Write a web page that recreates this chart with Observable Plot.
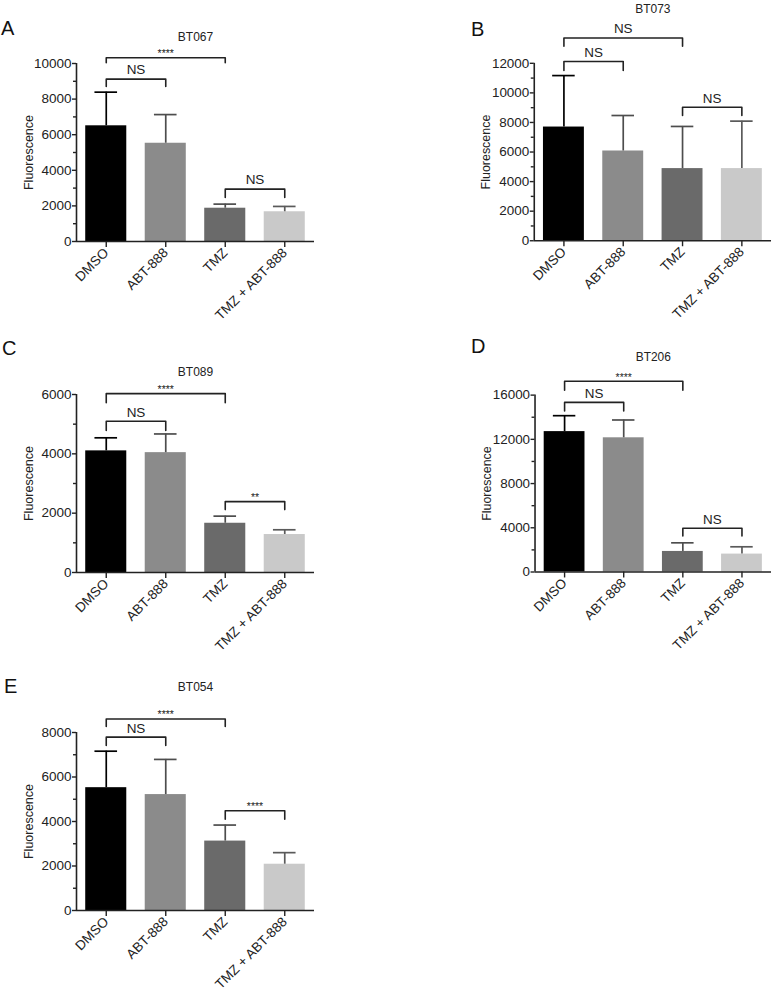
<!DOCTYPE html>
<html>
<head>
<meta charset="utf-8">
<script src="https://cdn.jsdelivr.net/npm/d3@7"></script>
<script src="https://cdn.jsdelivr.net/npm/@observablehq/plot@0.6"></script>
<style>
  html, body { margin: 0; padding: 0; background: #fff; }
  body { font-family: "Liberation Sans", Arial, sans-serif; }
  #fig { position: relative; width: 777px; height: 992px; overflow: hidden; background: #fff; }
  .panel { position: absolute; }
  .letter { position: absolute; font-size: 20px; line-height: 1; color: #111; }
</style>
</head>
<body>
<div id="fig"></div>
<script>
// ---- data ----
const groups = ["DMSO", "ABT-888", "TMZ", "TMZ + ABT-888"];
const cellLines = ["BT067", "BT073", "BT089", "BT206", "BT054"];
const panelLetters = ["A", "B", "C", "D", "E"];

const meanBT067 = [6500, 5520, 1870, 1670];
const errBT067  = [1890, 1610, 230, 300];
const meanBT073 = [7690, 6070, 4880, 4880];
const errBT073  = [3480, 2400, 2850, 3210];
const meanBT089 = [4100, 4040, 1660, 1280];
const errBT089  = [440, 630, 240, 160];
const meanBT206 = [12700, 12140, 1860, 1620];
const errBT206  = [1440, 1610, 780, 660];
const meanBT054 = [5520, 5210, 3120, 2080];
const errBT054  = [1640, 1580, 720, 520];

const yMaxes = [10000, 12000, 6000, 16000, 8000];
const yMajorSteps = [2000, 2000, 2000, 4000, 2000];

// significance brackets: [from, to, label, bracket top, bracket foot] (y in data units)
const sigBT067 = [["DMSO", "TMZ", "****", 10320, 10040], ["DMSO", "ABT-888", "NS", 9120, 8710], ["TMZ", "TMZ + ABT-888", "NS", 2940, 2470]];
const sigBT073 = [["DMSO", "TMZ", "NS", 13710, 13150], ["DMSO", "ABT-888", "NS", 12120, 11510], ["TMZ", "TMZ + ABT-888", "NS", 9030, 8470]];
const sigBT089 = [["DMSO", "TMZ", "****", 6030, 5720], ["DMSO", "ABT-888", "NS", 5100, 4790], ["TMZ", "TMZ + ABT-888", "**", 2390, 2120]];
const sigBT206 = [["DMSO", "TMZ", "****", 17260, 16450], ["DMSO", "ABT-888", "NS", 15340, 14560], ["TMZ", "TMZ + ABT-888", "NS", 3960, 3260]];
const sigBT054 = [["DMSO", "TMZ", "****", 8610, 8270], ["DMSO", "ABT-888", "NS", 7790, 7420], ["TMZ", "TMZ + ABT-888", "****", 4480, 4100]];

// ---- styling / layout ----
const barColors = ["#000000", "#8b8b8b", "#6a6a6a", "#c9c9c9"];
const errColors = ["#000000", "#4d4d4d", "#4d4d4d", "#5a5a5a"];
const meanArrays = [meanBT067, meanBT073, meanBT089, meanBT206, meanBT054];
const errArrays = [errBT067, errBT073, errBT089, errBT206, errBT054];
const sigArrays = [sigBT067, sigBT073, sigBT089, sigBT206, sigBT054];
const layout = [
  {left: 0,   top: 3,   titleDy: -26, letterLeft: 1,   letterTop: 18},
  {left: 458, top: 3,   titleDy: -54, letterLeft: 471, letterTop: 19},
  {left: 0,   top: 334, titleDy: -22, letterLeft: 2,   letterTop: 338},
  {left: 459, top: 335, titleDy: -38, letterLeft: 471, letterTop: 336},
  {left: 0,   top: 672, titleDy: -45, letterLeft: 4,   letterTop: 676}
];
const xDomain = [-0.5, groups.length - 0.5];
const barHalf = 0.345, capHalf = 0.19;
const ink = "#222";

function panel(k) {
  const means = meanArrays[k], errs = errArrays[k];
  const rows = groups.map((g, i) => ({group: g, i, mean: means[i], err: errs[i]}));
  const yMax = yMaxes[k], step = yMajorSteps[k];
  const major = d3.range(0, yMax + 1, step);
  const minor = d3.range(step / 2, yMax, step);
  const sig = sigArrays[k].map(([from, to, label, top, foot]) => ({a: groups.indexOf(from), b: groups.indexOf(to), label, top, foot}));
  const pts = sig.flatMap((s, j) => [
    {k: j, x: s.a, y: s.foot}, {k: j, x: s.a, y: s.top},
    {k: j, x: s.b, y: s.top}, {k: j, x: s.b, y: s.foot}
  ]);
  const isStar = (s) => s.label.startsWith("*");
  const mid = (s) => (s.a + s.b) / 2;
  return Plot.plot({
    width: 320, height: 318,
    marginLeft: 76, marginRight: 6, marginTop: 60, marginBottom: 80,
    style: {overflow: "visible", background: "transparent", fontFamily: "'Liberation Sans', Arial, sans-serif", color: ink},
    x: {type: "linear", domain: xDomain},
    y: {type: "linear", domain: [0, yMax]},
    marks: [
      Plot.rectY(rows, {x1: (d) => d.i - barHalf, x2: (d) => d.i + barHalf, y1: 0, y2: "mean", fill: (d) => barColors[d.i]}),
      Plot.ruleX(rows, {x: "i", y1: "mean", y2: (d) => d.mean + d.err, stroke: (d) => errColors[d.i], strokeWidth: 1.7}),
      Plot.ruleY(rows, {y: (d) => d.mean + d.err, x1: (d) => d.i - capHalf, x2: (d) => d.i + capHalf, stroke: (d) => errColors[d.i], strokeWidth: 1.7}),
      Plot.ruleX([xDomain[0]], {y1: 0, y2: yMax, stroke: ink, strokeWidth: 1.6}),
      Plot.ruleY([0], {stroke: ink, strokeWidth: 1.6}),
      Plot.axisY({ticks: major, tickFormat: (d) => String(d), tickSize: 4, tickPadding: 1, fontSize: 13.5, label: null, stroke: ink, strokeWidth: 1.4}),
      Plot.axisY({ticks: minor, tickFormat: () => "", tickSize: 3, label: null, stroke: ink, strokeWidth: 1.4}),
      Plot.axisX({ticks: groups.map((g, i) => i), tickFormat: (i) => groups[i], tickRotate: -45, tickSize: 6, tickPadding: 3, fontSize: 13.5, label: null, stroke: ink, strokeWidth: 1.4}),
      Plot.line(pts, {x: "x", y: "y", z: "k", stroke: ink, strokeWidth: 1.6}),
      Plot.text(sig.filter((s) => !isStar(s)), {x: mid, y: "top", text: "label", dy: -9, fontSize: 13.5, fill: ink}),
      Plot.text(sig.filter(isStar), {x: mid, y: "top", text: "label", dy: -4, fontSize: 10.5, fill: ink}),
      Plot.text([cellLines[k]], {frameAnchor: "top", lineAnchor: "middle", textAnchor: "middle", dy: layout[k].titleDy, fontSize: 12, fill: ink}),
      Plot.text(["Fluorescence"], {frameAnchor: "left", rotate: -90, textAnchor: "middle", lineAnchor: "middle", dx: -48, fontSize: 12.5, fill: ink})
    ]
  });
}

const fig = document.getElementById("fig");
cellLines.forEach((c, k) => {
  const wrap = document.createElement("div");
  wrap.className = "panel";
  wrap.style.left = layout[k].left + "px";
  wrap.style.top = layout[k].top + "px";
  wrap.appendChild(panel(k));
  fig.appendChild(wrap);
  const letter = document.createElement("div");
  letter.className = "letter";
  letter.textContent = panelLetters[k];
  letter.style.left = layout[k].letterLeft + "px";
  letter.style.top = layout[k].letterTop + "px";
  fig.appendChild(letter);
});
</script>
</body>
</html>
